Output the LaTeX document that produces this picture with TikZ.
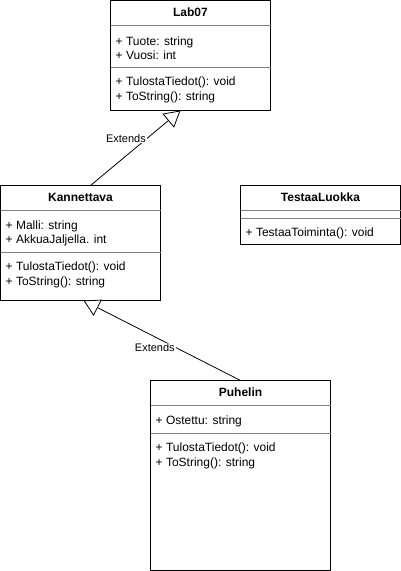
\documentclass[tikz,border=0pt]{standalone}
\usepackage{fontspec}
\setmainfont{Liberation Sans}
\usetikzlibrary{positioning, calc, arrows.meta}

\begin{document}
\begin{tikzpicture}[x=1pt,y=-1pt,
    every node/.append style={font=\fontsize{12}{14.4}\selectfont},
    classbox/.style={draw=black, line width=1pt, fill=white, anchor=north west, inner sep=0pt, outer sep=0pt},
    classname/.style={font=\fontsize{12}{14.4}\selectfont\bfseries, anchor=base, inner sep=0pt},
    member/.style={anchor=base west, inner sep=0pt},
    divider/.style={draw=black!50, line width=1pt},
    extends/.style={-{Triangle[open,length=16pt,width=18pt,fill=white]}, line width=0.8pt},
    edgelabel/.style={fill=white, inner sep=1pt, font=\fontsize{11}{13}\selectfont}]

    % Canvas
    \useasboundingbox (0,0) rectangle (401,571);

    % Lab07
    \node[classbox, minimum width=160pt, minimum height=110pt] (lab) at (110.5,0.5) {};
    \node[classname] (labName) at ($(lab.north)+(0,16)$) {Lab07};
    \draw[divider] ($(lab.north west)+(0,25)$) -- ($(lab.north east)+(0,25)$);
    \node[member] (labTuote) at ($(lab.north west)+(5,44.5)$) {+ Tuote: string};
    \node[member] (labVuosi) at ($(lab.north west)+(5,59)$) {+ Vuosi: int};
    \draw[divider] ($(lab.north west)+(0,67)$) -- ($(lab.north east)+(0,67)$);
    \node[member] (labTulosta) at ($(lab.north west)+(5,85)$) {+ TulostaTiedot(): void};
    \node[member] (labToString) at ($(lab.north west)+(5,99.5)$) {+ ToString(): string};

    % Kannettava
    \node[classbox, minimum width=160pt, minimum height=115pt] (kann) at (0.5,185.5) {};
    \node[classname] (kannName) at ($(kann.north)+(0,16)$) {Kannettava};
    \draw[divider] ($(kann.north west)+(0,25)$) -- ($(kann.north east)+(0,25)$);
    \node[member] (kannMalli) at ($(kann.north west)+(5,43.5)$) {+ Malli: string};
    \node[member] (kannAkku) at ($(kann.north west)+(5,58)$) {+ AkkuaJaljella. int};
    \draw[divider] ($(kann.north west)+(0,67)$) -- ($(kann.north east)+(0,67)$);
    \node[member] (kannTulosta) at ($(kann.north west)+(5,85)$) {+ TulostaTiedot(): void};
    \node[member] (kannToString) at ($(kann.north west)+(5,99.5)$) {+ ToString(): string};

    % TestaaLuokka
    \node[classbox, minimum width=160pt, minimum height=59pt] (testaa) at (240.5,185.5) {};
    \node[classname] (testaaName) at ($(testaa.north)+(0,16)$) {TestaaLuokka};
    \draw[divider] ($(testaa.north west)+(0,25)$) -- ($(testaa.north east)+(0,25)$);
    \draw[divider] ($(testaa.north west)+(0,33)$) -- ($(testaa.north east)+(0,33)$);
    \node[member] (testaaToiminta) at ($(testaa.north west)+(5,51)$) {+ TestaaToiminta(): void};

    % Puhelin
    \node[classbox, minimum width=180pt, minimum height=190pt] (puh) at (150.5,380.5) {};
    \node[classname] (puhName) at ($(puh.north)+(0,16)$) {Puhelin};
    \draw[divider] ($(puh.north west)+(0,25)$) -- ($(puh.north east)+(0,25)$);
    \node[member] (puhOstettu) at ($(puh.north west)+(5,43.5)$) {+ Ostettu: string};
    \draw[divider] ($(puh.north west)+(0,53)$) -- ($(puh.north east)+(0,53)$);
    \node[member] (puhTulosta) at ($(puh.north west)+(5,71)$) {+ TulostaTiedot(): void};
    \node[member] (puhToString) at ($(puh.north west)+(5,85.5)$) {+ ToString(): string};

    % Inheritance
    \draw[extends] ([xshift=10pt]kann.north) -- node[edgelabel, pos=0.63, anchor=east] (extKann) {Extends} ([xshift=-10pt]lab.south);
    \draw[extends] (puh.north) -- node[edgelabel, pos=0.41, anchor=east] (extPuh) {Extends} ([xshift=3pt]kann.south);

\end{tikzpicture}
\end{document}
